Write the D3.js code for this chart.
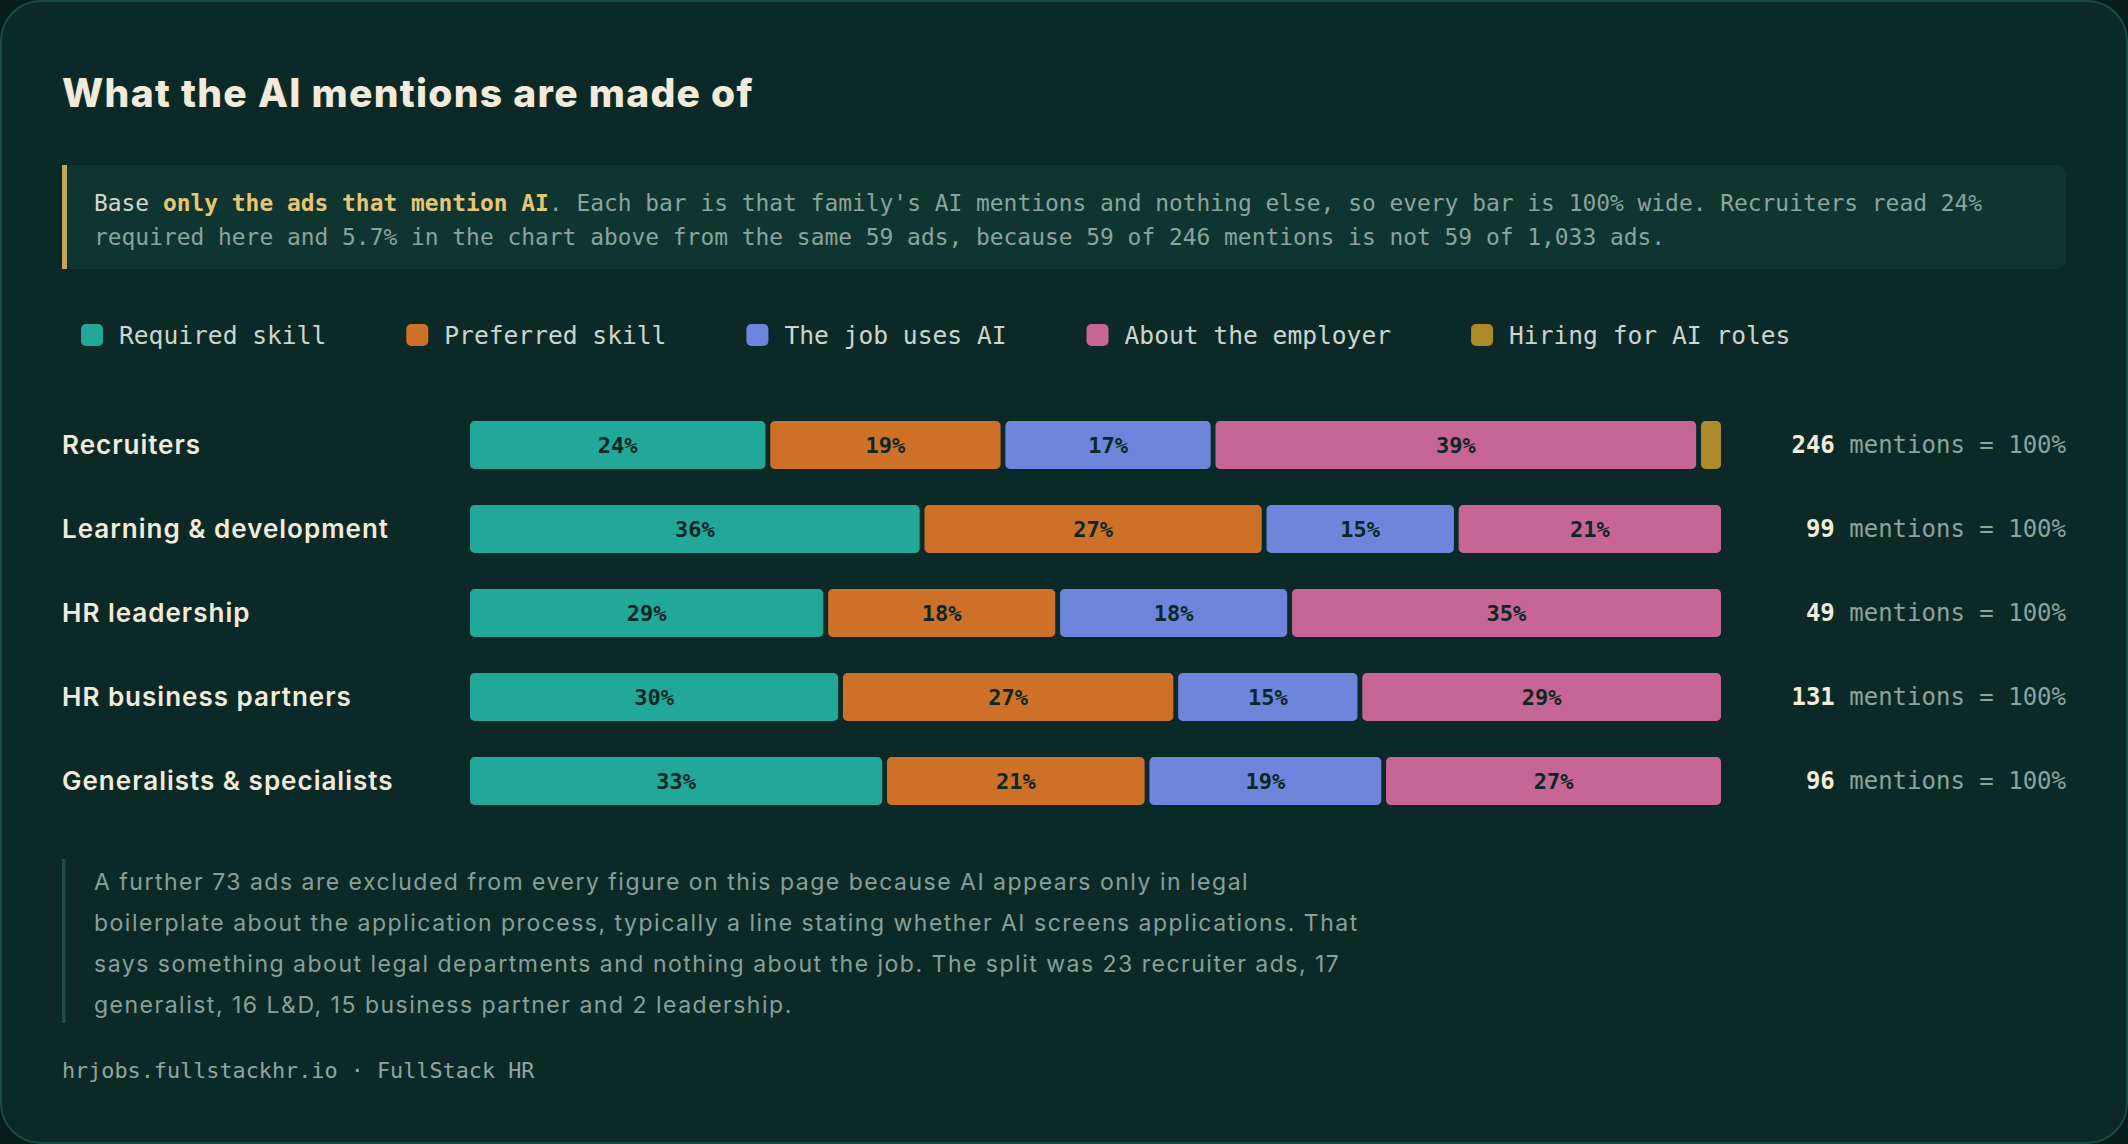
<!DOCTYPE html>
<html>
<head>
<meta charset="utf-8">
<script src="https://cdn.jsdelivr.net/npm/d3@7"></script>
<style>
  html, body { margin: 0; padding: 0; background: #071d1a; }
  svg { display: block; }
</style>
</head>
<body>
<svg id="chart" width="2128" height="1144"></svg>
<script>
// data
const families = ['Recruiters', 'Learning & development', 'HR leadership', 'HR business partners', 'Generalists & specialists']
const categories = ['Required skill', 'Preferred skill', 'The job uses AI', 'About the employer', 'Hiring for AI roles']
const required = [59, 36, 14, 39, 32]
const preferred = [46, 27, 9, 35, 20]
const usesAI = [41, 15, 9, 19, 18]
const employer = [96, 21, 17, 38, 26]
const hiringAI = [4, 0, 0, 0, 0]

const colors = ['#21a899', '#cd7129', '#6d86dc', '#c56695', '#ad8a2a']

const noteLines = [
  [['Base ', 'base'], ['only the ads that mention AI', 'hl'], ['. Each bar is that family\'s AI mentions and nothing else, so every bar is 100% wide. Recruiters read 24%', 'dim']],
  [['required here and 5.7% in the chart above from the same 59 ads, because 59 of 246 mentions is not 59 of 1,033 ads.', 'dim']],
]
const footLines = [
  'A further 73 ads are excluded from every figure on this page because AI appears only in legal',
  'boilerplate about the application process, typically a line stating whether AI screens applications. That',
  'says something about legal departments and nothing about the job. The split was 23 recruiter ads, 17',
  'generalist, 16 L&D, 15 business partner and 2 leadership.',
]

const mono = '"DejaVu Sans Mono", "Liberation Mono", monospace'
const sans = 'Inter, "Noto Sans", sans-serif'

const rows = families.map((f, i) => {
  const counts = [required[i], preferred[i], usesAI[i], employer[i], hiringAI[i]]
  return { family: f, counts, total: d3.sum(counts) }
})

const svg = d3.select('#chart')

// card
svg.append('rect')
    .attr('x', 1).attr('y', 1)
    .attr('width', 2126).attr('height', 1142)
    .attr('rx', 40)
    .attr('fill', '#0b2a27')
    .attr('stroke', '#1b4a42')
    .attr('stroke-width', 2)

// title
svg.append('text')
    .attr('x', 62).attr('y', 107)
    .attr('font-family', sans)
    .attr('font-weight', 800)
    .attr('font-size', 39)
    .attr('letter-spacing', 1.3)
    .attr('fill', '#f2ebdb')
    .text('What the AI mentions are made of')

// note box
const note = svg.append('g')
note.append('rect')
    .attr('x', 62).attr('y', 165)
    .attr('width', 2004).attr('height', 104)
    .attr('rx', 10)
    .attr('fill', '#0f3531')
note.append('rect')
    .attr('x', 62).attr('y', 165)
    .attr('width', 5).attr('height', 104)
    .attr('fill', '#c2a65a')

const noteStyle = {
  base: { fill: '#d2d8d0', weight: 400 },
  hl: { fill: '#e7c671', weight: 700 },
  dim: { fill: '#8da39b', weight: 400 },
}
noteLines.forEach((parts, li) => {
  const t = note.append('text')
      .attr('x', 94).attr('y', 211 + li * 34)
      .attr('font-family', mono)
      .attr('font-size', 22.9)
  parts.forEach(([s, k]) => {
    t.append('tspan')
        .attr('fill', noteStyle[k].fill)
        .attr('font-weight', noteStyle[k].weight)
        .text(s)
  })
})

// legend
const legend = svg.append('g').attr('transform', 'translate(81,335)')
let lx = 0
categories.forEach((c, i) => {
  const item = legend.append('g').attr('transform', `translate(${lx},0)`)
  item.append('rect')
      .attr('x', 0).attr('y', -11)
      .attr('width', 22).attr('height', 22)
      .attr('rx', 5)
      .attr('fill', colors[i])
  const t = item.append('text')
      .attr('x', 38).attr('y', 0)
      .attr('dy', '0.35em')
      .attr('font-family', mono)
      .attr('font-size', 24.6)
      .attr('fill', '#cdd5cd')
      .text(c)
  lx += 38 + t.node().getComputedTextLength() + 80
})

// bars
const barX = 470
const barW = 1251
const gap = 4.8

const y = d3.scaleBand()
    .domain(families)
    .range([403, 823])
    .paddingInner(0.43)
    .paddingOuter(0.215)

const barH = y.bandwidth()

const rowG = svg.append('g').selectAll('g')
    .data(rows)
    .join('g')
    .attr('transform', d => `translate(0,${y(d.family)})`)

rowG.append('text')
    .attr('x', 62).attr('y', barH / 2)
    .attr('dy', '0.35em')
    .attr('font-family', sans)
    .attr('font-weight', 600)
    .attr('font-size', 26)
    .attr('letter-spacing', 1.0)
    .attr('fill', '#f2ebdb')
    .text(d => d.family)

rowG.each(function(d) {
  const g = d3.select(this)
  const segs = d.counts
      .map((v, i) => ({ v, i }))
      .filter(s => s.v > 0)
  const x = d3.scaleLinear()
      .domain([0, d.total])
      .range([0, barW - gap * (segs.length - 1)])
  let cum = 0
  segs.forEach((s, k) => {
    s.x = barX + x(cum) + k * gap
    s.w = x(s.v)
    cum += s.v
  })
  g.selectAll('rect.seg')
      .data(segs)
      .join('rect')
      .attr('class', 'seg')
      .attr('x', s => s.x)
      .attr('y', 0)
      .attr('width', s => s.w)
      .attr('height', barH)
      .attr('rx', 4.5)
      .attr('fill', s => colors[s.i])
  g.selectAll('text.pct')
      .data(segs.filter(s => s.w > 45))
      .join('text')
      .attr('class', 'pct')
      .attr('x', s => s.x + s.w / 2)
      .attr('y', barH / 2)
      .attr('dy', '0.36em')
      .attr('text-anchor', 'middle')
      .attr('font-family', mono)
      .attr('font-weight', 700)
      .attr('font-size', 22)
      .attr('fill', '#0c2724')
      .text(s => Math.round(s.v / d.total * 100) + '%')

  const t = g.append('text')
      .attr('x', 2066).attr('y', barH / 2)
      .attr('dy', '0.35em')
      .attr('text-anchor', 'end')
      .attr('font-family', mono)
      .attr('font-size', 24)
  t.append('tspan')
      .attr('font-weight', 700)
      .attr('fill', '#f2ebdb')
      .text(d.total)
  t.append('tspan')
      .attr('fill', '#8da39b')
      .text(' mentions = 100%')
})

// footnote
svg.append('rect')
    .attr('x', 62).attr('y', 859)
    .attr('width', 3.5).attr('height', 164)
    .attr('fill', '#1f4d43')

svg.append('g').selectAll('text')
    .data(footLines)
    .join('text')
    .attr('x', 94)
    .attr('y', (d, i) => 890 + i * 41)
    .attr('font-family', sans)
    .attr('font-size', 23)
    .attr('letter-spacing', 1.5)
    .attr('fill', '#8aa097')
    .text(d => d)

svg.append('text')
    .attr('x', 62).attr('y', 1078)
    .attr('font-family', mono)
    .attr('font-size', 21.8)
    .attr('fill', '#94a59f')
    .text('hrjobs.fullstackhr.io · FullStack HR')
</script>
</body>
</html>
